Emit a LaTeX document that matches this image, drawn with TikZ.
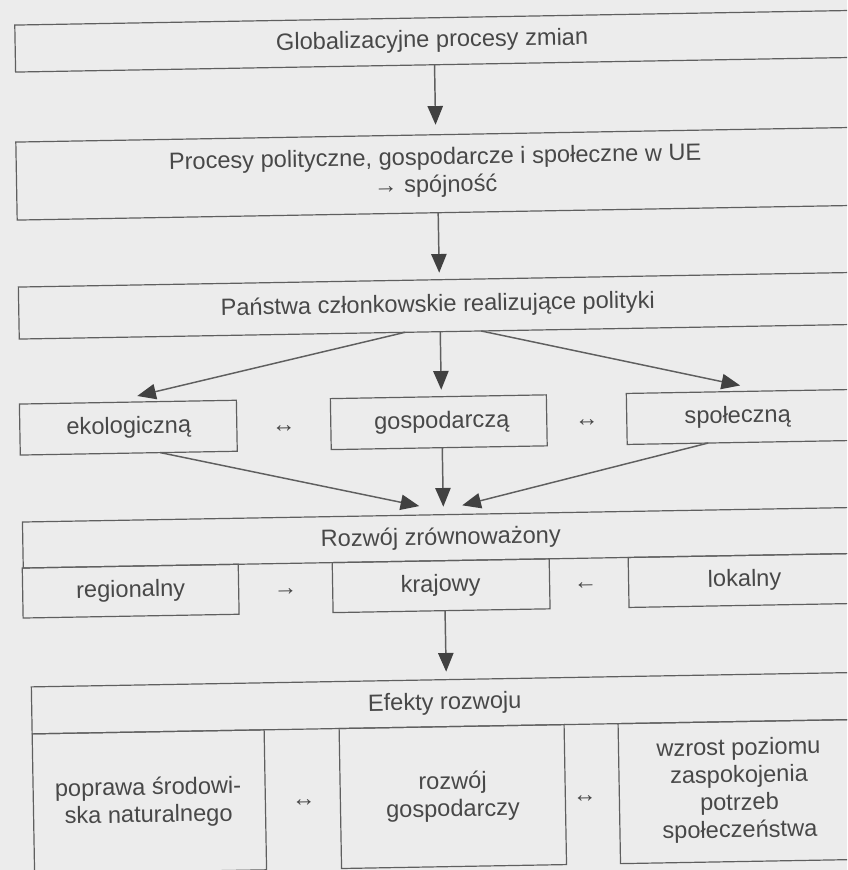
\documentclass[tikz,border=0pt]{standalone}
\usepackage{fontspec}
\setmainfont{Liberation Sans}
\usetikzlibrary{arrows.meta,calc}
\definecolor{bg}{RGB}{236,236,236}
\definecolor{ln}{RGB}{95,95,95}
\definecolor{tx}{RGB}{72,72,72}
\definecolor{ah}{RGB}{65,65,65}
\begin{document}
\begin{tikzpicture}[x=0.75pt,y=-0.75pt,
  box/.style={draw=ln, line width=0.9pt, inner sep=0pt, outer sep=0pt, rectangle, transform shape},
  txt/.style={text=tx, font=\fontsize{17.7}{20.6}\selectfont, inner sep=0pt, anchor=base, align=center, transform shape},
  arr/.style={draw=ln, line width=1.1pt, -{Triangle[length=14pt,width=11.5pt,color=ah]}},
]
\fill[bg] (0,0) rectangle (847,870);
\useasboundingbox (0,0) rectangle (847,870);
\clip (0,0) rectangle (847,870);
\begin{scope}[rotate around={1:(423.5,435)}]
% boxes
\node[box, minimum width=658.5pt, minimum height=35.25pt] (b1) at (461,41.5) {};
\node[box, minimum width=659.25pt, minimum height=58.5pt] (b2) at (460.5,174) {};
\node[box, minimum width=659.25pt, minimum height=39pt] (b3) at (460.5,306) {};
\node[box, minimum width=162.75pt, minimum height=38.25pt] (eko) at (128.5,422.5) {};
\node[box, minimum width=162pt, minimum height=38.25pt] (gos) at (439,422.5) {};
\node[box, minimum width=204.75pt, minimum height=38.25pt] (spo) at (763.5,422.5) {};
\node[box, minimum width=659.25pt, minimum height=34.5pt] (roz) at (460.5,538) {};
\node[box, minimum width=162pt, minimum height=37.5pt] (reg) at (128,586) {};
\node[box, minimum width=162.75pt, minimum height=37.5pt] (kra) at (438.5,586) {};
\node[box, minimum width=205.5pt, minimum height=37.5pt] (lok) at (763,586) {};
\node[box, minimum width=654.75pt, minimum height=35.25pt] (efe) at (463.5,703.5) {};
\node[box, minimum width=174pt, minimum height=105pt] (pop) at (143,797) {};
\node[box, minimum width=168.75pt, minimum height=105pt] (rgo) at (446.5,797) {};
\node[box, minimum width=215.25pt, minimum height=105pt] (wzr) at (756.5,797) {};
% texts (anchor = baseline of the last line)
\node[txt] (t1) at (439,47.5) {Globalizacyjne procesy zmian};
\node[txt] (t2) at (440,192.5) {Procesy polityczne, gospodarcze i społeczne w UE\\→ spójność};
\node[txt] (t3) at (440,312) {Państwa członkowskie realizujące polityki};
\node[txt] (te) at (129,428.5) {ekologiczną};
\node[txt] (tg) at (442,428.5) {gospodarczą};
\node[txt] (ts) at (738,428.5) {społeczną};
\node[txt] (lr1) at (284,429.5) {↔};
\node[txt] (lr2) at (587,429.5) {↔};
\node[txt] (tr) at (439,545) {Rozwój zrównoważony};
\node[txt] (treg) at (128,592) {regionalny};
\node[txt] (tkra) at (438,592) {krajowy};
\node[txt] (tlok) at (742,592) {lokalny};
\node[txt] (ar1) at (283,592.5) {→};
\node[txt] (ar2) at (583,592.5) {←};
\node[txt] (tef) at (440,710) {Efekty rozwoju};
\node[txt] (tp) at (142,817.5) {poprawa środowi-\\ska naturalnego};
\node[txt] (tg2) at (446.5,817) {rozwój\\gospodarczy};
\node[txt] (tw) at (733,843) {wzrost poziomu\\zaspokojenia\\potrzeb\\społeczeństwa};
\node[txt] (lr3) at (297.5,804) {↔};
\node[txt] (lr4) at (578.5,805) {↔};
% connectors
\draw[arr, shorten >=7.5pt] ($(b1.south west)!0.4772!(b1.south east)$) -- ($(b2.north west)!0.4778!(b2.north east)$);
\draw[arr, shorten >=5.25pt] ($(b2.south west)!0.479!(b2.south east)$) -- ($(b3.north west)!0.479!(b3.north east)$);
\draw[arr, shorten >=21pt] ($(b3.south west)!0.439!(b3.south east)$) -- ($(eko.north west)!0.4175!(eko.north east)$);
\draw[arr, shorten >=5.25pt] ($(b3.south west)!0.479!(b3.south east)$) -- ($(gos.north west)!0.514!(gos.north east)$);
\draw[arr, shorten >=20.2pt] ($(b3.south west)!0.5256!(b3.south east)$) -- ($(spo.north west)!0.5136!(spo.north east)$);
\draw[arr, shorten >=30.75pt] ($(eko.south west)!0.645!(eko.south east)$) -- ($(roz.north west)!0.4972!(roz.north east)$);
\draw[arr, shorten >=6pt] ($(gos.south west)!0.514!(gos.south east)$) -- ($(roz.north west)!0.479!(roz.north east)$);
\draw[arr, shorten >=29.5pt] ($(spo.south west)!0.2967!(spo.south east)$) -- ($(roz.north west)!0.457!(roz.north east)$);
\draw[arr, shorten >=6pt] ($(kra.south west)!0.516!(kra.south east)$) -- ($(efe.north west)!0.4754!(efe.north east)$);
\end{scope}
\end{tikzpicture}
\end{document}
